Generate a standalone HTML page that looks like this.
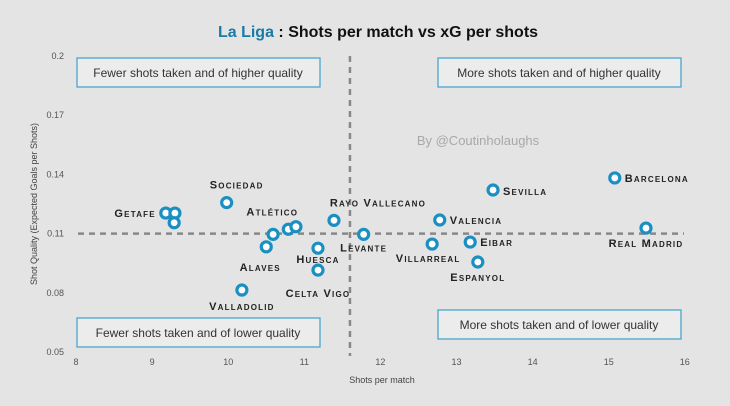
<!DOCTYPE html>
<html><head><meta charset="utf-8"><style>
body{margin:0;width:730px;height:406px;background:#e4e4e4;overflow:hidden}
svg{display:block;font-family:"Liberation Sans",sans-serif}
.lbl{font-size:11px;font-weight:bold;letter-spacing:1.2px;font-variant:small-caps;fill:#222}
.tick{font-size:9px;fill:#555}
.qt{font-size:12px;fill:#333}
</style></head><body>
<svg id="c" width="730" height="406">
<text x="378" y="37" text-anchor="middle" font-size="16" font-weight="bold" fill="#111"><tspan fill="#1a7aa8">La Liga</tspan> : Shots per match vs xG per shots</text>
<text x="478" y="145" text-anchor="middle" font-size="13" fill="#a8a8a8">By @Coutinholaughs</text>
<text x="382" y="383" text-anchor="middle" font-size="9" fill="#444">Shots per match</text>
<text transform="translate(37,204) rotate(-90)" text-anchor="middle" font-size="9" fill="#444">Shot Quality (Expected Goals per Shots)</text>
<g id="g"></g>
</svg>
<script>
const teams=["Getafe","","","Sociedad","Alaves","","Atlético","","Rayo Vallecano","Huesca","Celta Vigo","Levante","Valladolid","Sevilla","Barcelona","Real Madrid","Valencia","Villarreal","Eibar","Espanyol"];
const shots=[9.18,9.30,9.29,9.98,10.50,10.59,10.79,10.89,11.39,11.18,11.18,11.78,10.18,13.48,15.08,15.49,12.78,12.68,13.18,13.28];
const xg=[0.1204,0.1204,0.1155,0.1257,0.1033,0.1096,0.1122,0.1135,0.1167,0.1026,0.0915,0.1096,0.0814,0.1321,0.1382,0.1128,0.1169,0.1047,0.1057,0.0956];
const xTicks=[8,9,10,11,12,13,14,15,16];
const yTicks=[0.05,0.08,0.11,0.14,0.17,0.2];
const xSplit=11.6, ySplit=0.11;
const X=v=>76+(v-8)*76.1, Y=v=>56+(0.2-v)/0.15*296;
const NS="http://www.w3.org/2000/svg",g=document.getElementById('g');
function mk(t,a,txt){const e=document.createElementNS(NS,t);for(const k in a)e.setAttribute(k,a[k]);if(txt!=null)e.textContent=txt;g.appendChild(e);return e;}
xTicks.forEach(v=>{const e=mk('text',{x:X(v),y:365,'text-anchor':'middle','class':'tick'},v);

});
yTicks.forEach(v=>{const e=mk('text',{x:64,y:Y(v)+3,'text-anchor':'end','class':'tick'},v);

});
let l=mk('line',{x1:X(xSplit),x2:X(xSplit),y1:56,y2:356,stroke:'#888','stroke-width':2.5,'stroke-dasharray':'6,5'});


l=mk('line',{x1:78,x2:684,y1:Y(ySplit),y2:Y(ySplit),stroke:'#888','stroke-width':2.5,'stroke-dasharray':'6,5'});


const boxes=[[77,58,"Fewer shots taken and of higher quality","box-top-left"],[438,58,"More shots taken and of higher quality","box-top-right"],[77,318,"Fewer shots taken and of lower quality","box-bottom-left"],[438,310,"More shots taken and of lower quality","box-bottom-right"]];
boxes.forEach(b=>{const r=mk('rect',{x:b[0],y:b[1],width:243,height:29,fill:'#ececec',stroke:'#4aa6cf','stroke-width':1.3});


const t=mk('text',{x:b[0]+121,y:b[1]+19,'text-anchor':'middle','class':'qt'},b[2]);

});
const lab={"Getafe":[-10,4,'end'],"Sociedad":[10,-14,'middle'],"Alaves":[-6,24,'middle'],"Atlético":[-16,-14,'middle'],"Rayo Vallecano":[44,-14,'middle'],"Huesca":[0,15,'middle'],"Celta Vigo":[0,27,'middle'],"Levante":[0,17,'middle'],"Valladolid":[0,20,'middle'],"Sevilla":[10,5,'start'],"Barcelona":[10,4,'start'],"Real Madrid":[0,19,'middle'],"Valencia":[10,4,'start'],"Villarreal":[-4,18,'middle'],"Eibar":[10,4,'start'],"Espanyol":[0,19,'middle']};
shots.forEach((s,i)=>{const c=mk('circle',{cx:X(s),cy:Y(xg[i]),r:5,fill:'#fff',stroke:'#1a90c2','stroke-width':3.2});


const n=teams[i];if(n&&lab[n]){const o=lab[n];const t=mk('text',{x:X(s)+o[0],y:Y(xg[i])+o[1],'text-anchor':o[2],'class':'lbl'},n);

}});
</script>
</body></html>
